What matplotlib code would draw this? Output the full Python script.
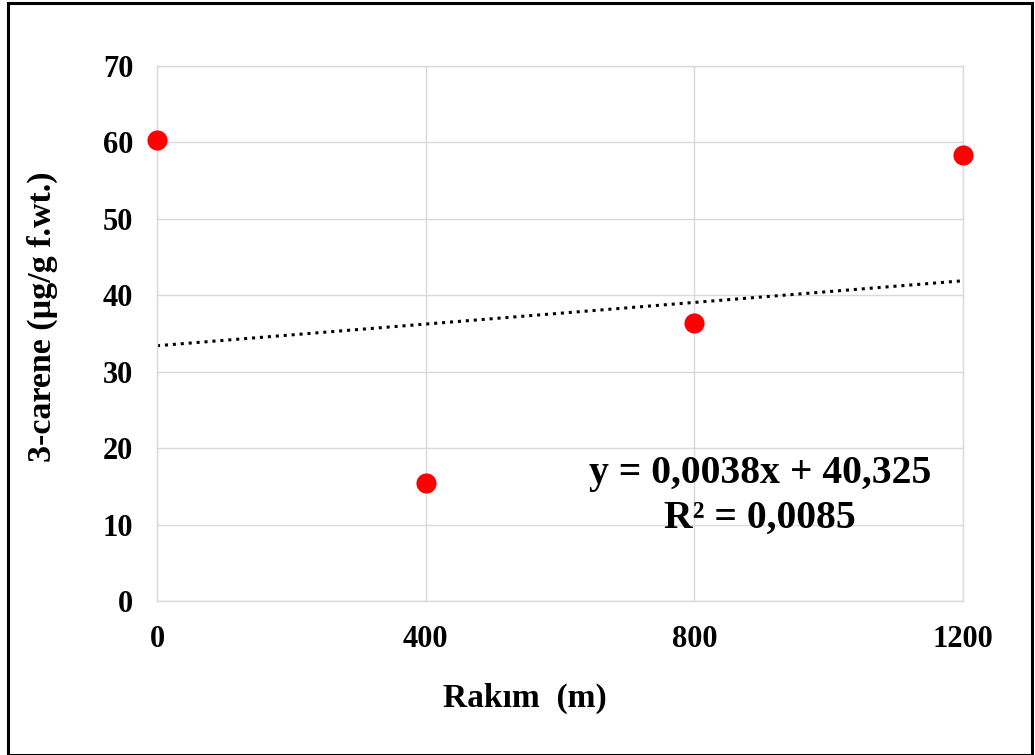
import matplotlib
matplotlib.use("Agg")
import matplotlib.pyplot as plt
from matplotlib.patches import Rectangle

# Data
altitude = [0, 400, 800, 1200]
carene = [60.3, 15.4, 36.4, 58.4]
trend_x = [0, 1200]
trend_y = [33.4, 41.9]
x_ticks = [0, 400, 800, 1200]
y_ticks = [0, 10, 20, 30, 40, 50, 60, 70]
equation_text = "y = 0,0038x + 40,325\nR² = 0,0085"
x_label = "Rakım  (m)"
y_label = "3-carene (µg/g f.wt.)"

plt.rcParams['font.family'] = ['Liberation Serif', 'DejaVu Serif']
plt.rcParams['font.weight'] = 'bold'

fig = plt.figure(figsize=(10.35, 7.55), dpi=100)
ax = fig.add_axes([157/1035, 1-601/755, (963-157)/1035, (601-66)/755])

grid_col = '#d9d9d9'
ax.set_xlim(0, 1200)
ax.set_ylim(0, 70)
ax.set_xticks(x_ticks)
ax.set_yticks(y_ticks)
ax.grid(True, color=grid_col, linewidth=1.0)
ax.set_axisbelow(True)
for s in ax.spines.values():
    s.set_color(grid_col)
    s.set_linewidth(1.0)
ax.tick_params(length=0, labelsize=22)
ax.tick_params(axis='x', pad=17)
ax.tick_params(axis='y', pad=17)
for lab in ax.get_xticklabels() + ax.get_yticklabels():
    lab.set_fontweight('bold')

ax.plot(trend_x, trend_y, linestyle=(0, (1, 1.6)), color='black', linewidth=2.2, zorder=2)
ax.scatter(altitude, carene, s=210, color='#ff0000', zorder=3, clip_on=False, linewidths=0)

ax.text(760/1035, 1-496/755, equation_text, transform=fig.transFigure,
        ha='center', va='center', fontsize=28.5, fontweight='bold', linespacing=1.25)

fig.text(525/1035, 1-698/755, x_label, ha='center', va='center', fontsize=24, fontweight='bold')
fig.text(42/1035, 1-317/755, y_label, ha='center', va='center', rotation=90,
         fontsize=24.5, fontweight='bold')

fig.patches.append(Rectangle((8/1035, 0), (1032-8)/1035, 1-3/755, transform=fig.transFigure,
                             fill=False, edgecolor='black', linewidth=2.2))

fig.savefig("out.png", dpi=100, facecolor='white')
